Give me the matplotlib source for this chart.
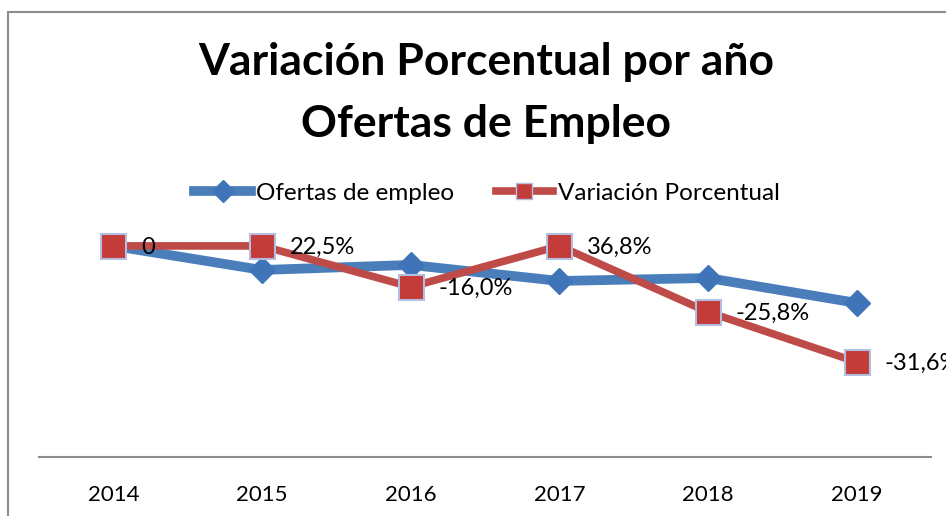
"""Variación porcentual por año - ofertas de empleo."""

import matplotlib.pyplot as plt
from matplotlib.lines import Line2D
from matplotlib.patches import Rectangle

years = ["2014", "2015", "2016", "2017", "2018", "2019"]
ofertas = [100.0, 88.6, 91.0, 83.4, 84.8, 73.0]
variacion = [100.0, 100.0, 80.6, 100.0, 68.7, 45.0]
variacion_labels = ["0", "22,5%", "-16,0%", "36,8%", "-25,8%", "-31,6%"]

BLUE = "#4A7EBB"
RED = "#BE4B48"
FONT = "Lato"

plt.rcParams["font.family"] = [FONT, "DejaVu Sans"]

W, H = 946, 516
fig = plt.figure(figsize=(W / 100, H / 100), dpi=100)

# chart border (only top and left visible in the crop)
fig.patches.append(
    Rectangle((8 / W, -0.1), 1.2, 1 - 12 / H + 0.1, transform=fig.transFigure,
              fill=False, edgecolor="#8C8C8C", linewidth=1.5)
)

ax = fig.add_axes([39 / W, (H - 457) / H, (931 - 39) / W, (457 - 232) / H])
x = list(range(len(years)))

ax.plot(x, ofertas, color=BLUE, linewidth=7, marker="D", markersize=13,
        markerfacecolor="#3F75B8", markeredgecolor="#3F75B8", zorder=3)
ax.plot(x, variacion, color=RED, linewidth=5.5, marker="s", markersize=18,
        markerfacecolor="#C33C39", markeredgecolor="#B4BEE0", markeredgewidth=1.5,
        zorder=4)

for xi, yi, lab in zip(x, variacion, variacion_labels):
    ax.annotate(lab, (xi, yi), xytext=(20, -1), textcoords="offset points",
                ha="left", va="center", fontsize=17, color="black", zorder=5,
                annotation_clip=False)

ax.set_xlim(-0.5, len(years) - 0.5)
ax.set_ylim(0, 106.6)
ax.set_xticks(x)
ax.set_xticklabels(years, fontsize=16)
ax.tick_params(axis="x", length=0, pad=20)
ax.set_yticks([])
for side in ["top", "right", "left"]:
    ax.spines[side].set_visible(False)
ax.spines["bottom"].set_color("#8C8C8C")
ax.spines["bottom"].set_linewidth(1.5)

fig.text(486 / W, 1 - 62 / H, "Variación Porcentual por año",
         ha="center", va="center", fontsize=32, fontweight="bold")
fig.text(486 / W, 1 - 124 / H, "Ofertas de Empleo",
         ha="center", va="center", fontsize=32, fontweight="bold")

handles = [
    Line2D([], [], color=BLUE, linewidth=7, marker="D", markersize=11,
           markerfacecolor="#3F75B8", markeredgecolor="#3F75B8"),
    Line2D([], [], color=RED, linewidth=5.5, marker="s", markersize=11,
           markerfacecolor="#C33C39", markeredgecolor="#B4BEE0"),
]
fig.legend(handles, ["Ofertas de empleo", "Variación Porcentual"],
           loc="center", bbox_to_anchor=(487 / W, 1 - 193 / H), ncol=2,
           frameon=False, fontsize=17.5, handlelength=2.35, handletextpad=0.2,
           columnspacing=1.7)

fig.savefig("out.png", dpi=100)
